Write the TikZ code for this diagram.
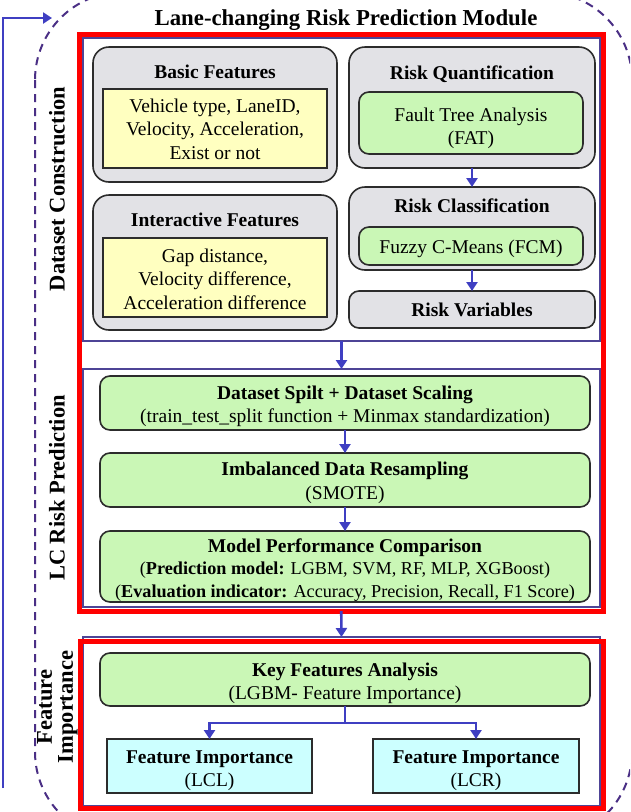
\documentclass[tikz,border=0pt]{standalone}
\usepackage{fontspec}
\setmainfont{Liberation Serif}
\usetikzlibrary{arrows.meta}

\definecolor{framered}{HTML}{FF0000}
\definecolor{secline}{HTML}{4E4496}
\definecolor{dashpurple}{HTML}{4A2F85}
\definecolor{flowblue}{HTML}{3F3FC2}
\definecolor{boxgray}{HTML}{E2E2E6}
\definecolor{boxedge}{HTML}{2C2C2C}
\definecolor{featyellow}{HTML}{FFFFC0}
\definecolor{stepgreen}{HTML}{CAF7B6}
\definecolor{outcyan}{HTML}{CCFFFF}

\newcommand\txtfont{\fontsize{19.5}{23.5}\selectfont}
\newcommand\smalltxtfont{\fontsize{18.2}{22.5}\selectfont}
\newcommand\titlefont{\fontsize{22.8}{24}\selectfont\bfseries}
\newcommand\sidefont{\fontsize{22.5}{21}\selectfont\bfseries}
% invisible strut that raises the first line's height, pushing a block of text down
\newcommand\drop[1]{\rule{0pt}{#1}}

\begin{document}
\begin{tikzpicture}[x=1pt,y=-1pt,
  every node/.style={font=\txtfont, inner sep=0pt, outer sep=0pt, align=center},
  grayblock/.style={draw=boxedge, line width=1.6pt, fill=boxgray, rounded corners=16pt},
  yellowblock/.style={draw=boxedge, line width=1.6pt, fill=featyellow},
  greenblock/.style={draw=boxedge, line width=1.6pt, fill=stepgreen, rounded corners=10pt},
  cyanblock/.style={draw=boxedge, line width=1.6pt, fill=outcyan},
  section/.style={draw=secline, line width=1.5pt},
  redframe/.style={draw=framered, line width=5pt},
  heading/.style={font=\txtfont\bfseries, anchor=base},
  sidelabel/.style={font=\sidefont, rotate=90},
  flow/.style={draw=flowblue, line width=2.6pt, -{Triangle[length=9pt,width=11pt]}},
  dashframe/.style={draw=dashpurple, line width=2pt, dash pattern=on 8pt off 6pt, rounded corners=88pt}
]
\useasboundingbox (0,0) rectangle (630,812);
\fill[white] (0,0) rectangle (630,812);

% dashed outline of the whole module
\begin{scope}
  \clip (0,0) rectangle (630,812);
  \draw[dashframe] (35,-8) rectangle (632,840);
\end{scope}

% feedback loop into the module
\coordinate (loopstart) at (3,788);
\coordinate (loopturn) at (3,18);
\coordinate (loopend) at (52,18);
\draw[flow, line width=2.2pt] (loopstart) -- (loopturn) -- (loopend);

% title
\node[font=\titlefont, anchor=base] (title) at (346,25) {Lane-changing Risk Prediction Module};

% section frames
\node[section, minimum width=517pt, minimum height=303pt] (dcsec) at (341.5,189.5) {};
\node[section, minimum width=517pt, minimum height=238pt] (lcsec) at (341.5,488) {};
\node[section, minimum width=517pt, minimum height=169pt] (fisec) at (341.5,721.5) {};
\node[redframe, minimum width=523.5pt, minimum height=576.5pt] (redtop) at (341.25,322.75) {};
\node[redframe, minimum width=522.5pt, minimum height=167pt] (redbottom) at (341.75,724.5) {};

% side labels
\node[sidelabel] (labdc) at (57,189) {Dataset Construction};
\node[sidelabel] (lablc) at (57,488) {LC Risk Prediction};
\node[sidelabel] (labfi) at (57.5,707) {Feature\\Importance};

% ---- dataset construction ----
\node[grayblock, minimum width=244pt, minimum height=135pt] (basic) at (215,114.5) {};
\node[heading] (basichead) at (215,78) {Basic Features};
\node[yellowblock, minimum width=224pt, minimum height=79pt] (basicfeat) at (215,128.5)
  {\drop{15pt}Vehicle type, LaneID,\\Velocity, Acceleration,\\Exist or not};

\node[grayblock, minimum width=244pt, minimum height=135pt] (inter) at (215,262.5) {};
\node[heading] (interhead) at (215,226.5) {Interactive Features};
\node[yellowblock, minimum width=224pt, minimum height=79pt] (interfeat) at (215,277.5)
  {\drop{16.5pt}Gap distance,\\Velocity difference,\\Acceleration difference};

\node[grayblock, minimum width=246pt, minimum height=121pt] (riskq) at (472,107.5) {};
\node[heading] (riskqhead) at (472,79.5) {Risk Quantification};
\node[greenblock, minimum width=224pt, minimum height=62pt] (fta) at (471,123)
  {\drop{24pt}Fault Tree Analysis\\(FAT)};

\node[grayblock, minimum width=246pt, minimum height=83pt] (riskc) at (472,228.5) {};
\node[heading] (riskchead) at (472,212.5) {Risk Classification};
\node[greenblock, minimum width=224pt, minimum height=38pt] (fcm) at (471,246)
  {\drop{19.5pt}Fuzzy C-Means (FCM)};

\node[grayblock, rounded corners=10pt, minimum width=246pt, minimum height=37pt, font=\txtfont\bfseries] (riskv) at (472,309.5)
  {\drop{15pt}Risk Variables};

\draw[flow] (riskq) -- (riskc);
\draw[flow] (riskc) -- (riskv);

% ---- LC risk prediction ----
\node[greenblock, minimum width=490pt, minimum height=54pt] (split) at (345,403)
  {\drop{20.5pt}\textbf{Dataset Spilt + Dataset Scaling}\\(train\_test\_split function + Minmax standardization)};
\node[greenblock, minimum width=490pt, minimum height=54pt] (smote) at (345,480)
  {\drop{19.5pt}\textbf{Imbalanced Data Resampling}\\(SMOTE)};
\node[greenblock, minimum width=490pt, minimum height=71pt, font=\smalltxtfont] (models) at (345,566.5)
  {\drop{20.5pt}{\txtfont\bfseries Model Performance Comparison}\\(\textbf{Prediction model:} LGBM, SVM, RF, MLP, XGBoost)\\(\textbf{Evaluation indicator:} Accuracy, Precision, Recall, F1 Score)};

\draw[flow] (split) -- (smote);
\draw[flow] (smote) -- (models);

% ---- feature importance ----
\node[greenblock, minimum width=490pt, minimum height=53pt] (keyfeat) at (345,679.5)
  {\drop{21.5pt}\textbf{Key Features Analysis}\\(LGBM- Feature Importance)};
\node[cyanblock, minimum width=205pt, minimum height=54pt] (lcl) at (209.5,766)
  {\drop{22pt}\textbf{Feature Importance}\\(LCL)};
\node[cyanblock, minimum width=206pt, minimum height=54pt] (lcr) at (476,766)
  {\drop{22pt}\textbf{Feature Importance}\\(LCR)};

\draw[flow] (keyfeat.south) -- ++(0,17) -| (lcl.north);
\draw[flow] (keyfeat.south) -- ++(0,17) -| (lcr.north);

% links between sections
\draw[flow] (dcsec.south) -- (lcsec.north);
\draw[flow] (redtop.south) -- (fisec.north);
\end{tikzpicture}
\end{document}
